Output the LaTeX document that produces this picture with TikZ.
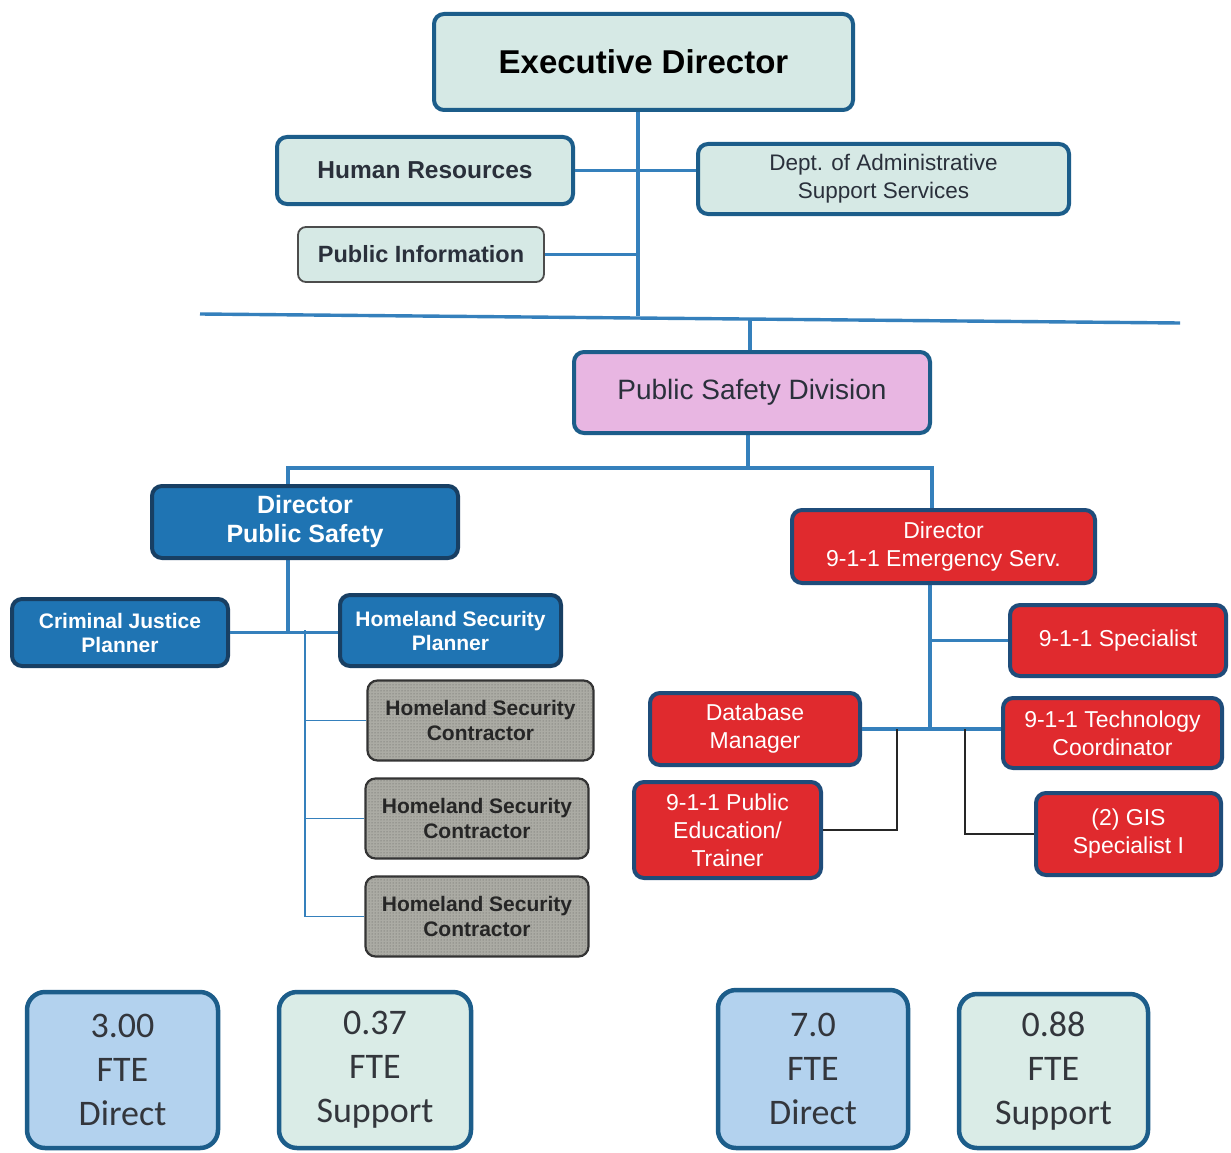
\documentclass[tikz,border=0pt]{standalone}
\usepackage{fontspec}
\setmainfont{Liberation Sans}
\newfontfamily\calfont{Carlito}
\usetikzlibrary{patterns}
\definecolor{bdr}{HTML}{1C5D8A}
\definecolor{tealfill}{HTML}{D6E9E5}
\definecolor{conn}{HTML}{3580BC}
\definecolor{pinkfill}{HTML}{E8B6E2}
\definecolor{psblue}{HTML}{1F74B3}
\definecolor{psbdr}{HTML}{183F63}
\definecolor{redfill}{HTML}{E02A2E}
\definecolor{redbdr}{HTML}{1F4C7A}
\definecolor{grayfill}{HTML}{ABABA4}
\definecolor{darktxt}{HTML}{2A303B}
\definecolor{dirfill}{HTML}{B3D2EE}
\definecolor{supfill}{HTML}{DAECE7}
\definecolor{ftetxt}{HTML}{33363C}
\tikzset{
  box/.style={draw=bdr, line width=4pt, rounded corners=10pt, align=center, inner sep=0pt},
  tealbox/.style={box, fill=tealfill, text=darktxt},
  redbox/.style={box, draw=redbdr, fill=redfill, text=white, font=\fontsize{23}{28}\selectfont},
  bluebox/.style={box, draw=psbdr, fill=psblue, text=white},
  contbox/.style={box, draw=black!80, line width=2.2pt, fill=grayfill, text=black!85,
     postaction={pattern=dots, pattern color=black!65},
     font=\fontsize{21}{25}\selectfont\bfseries},
  ftebox/.style={box, line width=4.5pt, rounded corners=18pt, text=ftetxt,
     font=\calfont\fontsize{36}{44}\selectfont},
  cline/.style={draw=conn, line width=3.4pt},
  thinline/.style={draw=conn, line width=1.8pt},
  blkline/.style={draw=black!85, line width=2.6pt},
}
\begin{document}
\begin{tikzpicture}[x=1pt,y=-1pt]
\useasboundingbox[fill=white] (0,0) rectangle (1231,1153);

% coordinates for connector junctions
\coordinate (t1) at (638,316);
\coordinate (hl) at (200,314);
\coordinate (hrr) at (1180,323);
\coordinate (t2) at (750,319);
\coordinate (t3) at (748,468);
\coordinate (jl) at (288,468);
\coordinate (jr) at (932,468);
\coordinate (bx) at (305,630);
\coordinate (k) at (930,640);
\coordinate (b1) at (897,729);
\coordinate (b2) at (965,729);

% connectors (drawn first, under the boxes)
\draw[cline] (hl) -- (hrr);
\draw[cline] (t1 |- 0,100) -- (t1);
\draw[cline] (t2) -- (t2 |- 0,400);
\draw[cline] (t3 |- 0,420) -- (t3);
\draw[cline] (jl |- 0,500) -- (jl) -- (jr) -- (jr |- 0,520);
\draw[cline] (jl |- 0,540) -- (jl |- 0,631);
\draw[cline] (k |- 0,570) -- (k |- 0,729);

% top level
\node[tealbox, minimum width=419pt, minimum height=96pt,
      font=\fontsize{33}{38}\selectfont\bfseries, text=black] (exec) at (643.5,62)
      {Executive\hspace{9pt}Director};
\node[tealbox, minimum width=296pt, minimum height=67pt,
      font=\fontsize{24.5}{29}\selectfont\bfseries] (hr) at (425,170.5) {Human Resources};
\node[tealbox, minimum width=371pt, minimum height=70pt,
      font=\fontsize{22.5}{28}\selectfont] (dass) at (883.5,179)
      {Dept. of Administrative\\Support Services};
\node[tealbox, draw=black!70, line width=1.8pt, rounded corners=8pt,
      minimum width=246pt, minimum height=55pt,
      font=\fontsize{23.5}{28}\selectfont\bfseries] (pinfo) at (421,254.5) {Public Information};

\draw[cline] (hr.east) -- (hr.east -| dass.west);
\draw[cline] (pinfo.east) -- (pinfo.east -| t1);

% division
\node[box, fill=pinkfill, text=darktxt, minimum width=356pt, minimum height=81pt,
      font=\fontsize{28}{32}\selectfont] (psd) at (752,392.5) {Public Safety Division};

% public safety branch
\node[bluebox, minimum width=306pt, minimum height=72pt,
      font=\fontsize{25}{29}\selectfont\bfseries] (dps) at (305,522)
      {Director\\Public Safety};
\node[bluebox, minimum width=216pt, minimum height=67pt,
      font=\fontsize{21}{24}\selectfont\bfseries] (cjp) at (120,632.5)
      {Criminal Justice\\Planner};
\node[bluebox, minimum width=221pt, minimum height=71pt,
      font=\fontsize{21}{24}\selectfont\bfseries] (hsp) at (450.5,630.5)
      {Homeland Security\\Planner};
\draw[cline] (cjp.east) -- (cjp.east -| hsp.west);

\node[contbox, minimum width=226pt, minimum height=80pt] (c1) at (480.5,720.5)
      {Homeland Security\\Contractor};
\node[contbox, minimum width=223pt, minimum height=80pt] (c2) at (477,818.5)
      {Homeland Security\\Contractor};
\node[contbox, minimum width=223pt, minimum height=80pt] (c3) at (477,916.5)
      {Homeland Security\\Contractor};
\draw[thinline] (bx) -- (bx |- c3.west) -- (c3.west);
\draw[thinline] (bx |- c1.west) -- (c1.west);
\draw[thinline] (bx |- c2.west) -- (c2.west);

% 9-1-1 branch
\node[redbox, minimum width=303pt, minimum height=73pt] (d911) at (943.5,546.5)
      {Director\\9-1-1 Emergency Serv.};
\node[redbox, minimum width=216pt, minimum height=71pt] (s911) at (1118,640.5)
      {9-1-1 Specialist};
\node[redbox, minimum width=210pt, minimum height=72pt] (dbm) at (755,729)
      {Database\\Manager};
\node[redbox, minimum width=219pt, minimum height=70pt] (tech) at (1112.5,733)
      {9-1-1 Technology\\Coordinator};
\node[redbox, minimum width=187pt, minimum height=96pt] (pet) at (727.5,830)
      {9-1-1 Public\\Education/\\Trainer};
\node[redbox, minimum width=185pt, minimum height=82pt] (gis) at (1128.5,834)
      {(2) GIS\\Specialist I};

\draw[cline] (k |- s911.west) -- (s911.west);
\draw[cline] (dbm.east |- b1) -- (tech.west |- b1);
\draw[blkline] (b1) -- (b1 |- pet.east) -- (pet.east);
\draw[blkline] (b2) -- (b2 |- gis.west) -- (gis.west);

% FTE boxes
\node[ftebox, fill=dirfill, minimum width=191pt, minimum height=156pt] (f1) at (122.5,1070)
      {3.00\\FTE\\Direct};
\node[ftebox, fill=supfill, minimum width=192pt, minimum height=156pt] (f2) at (375,1070)
      {0.37\\FTE\\Support};
\node[ftebox, fill=dirfill, minimum width=190pt, minimum height=158pt] (f3) at (813,1069)
      {7.0\\FTE\\Direct};
\node[ftebox, fill=supfill, minimum width=189pt, minimum height=154pt] (f4) at (1053.5,1071)
      {0.88\\FTE\\Support};
\end{tikzpicture}
\end{document}
